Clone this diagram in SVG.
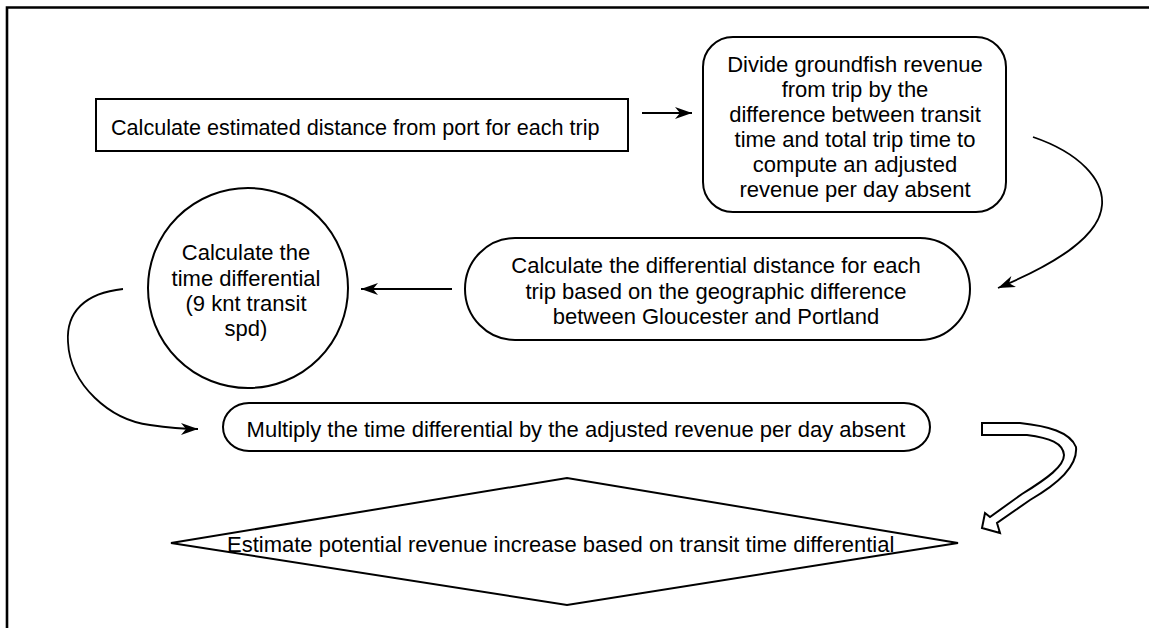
<svg xmlns="http://www.w3.org/2000/svg" width="1149" height="628" viewBox="0 0 1149 628">
  <style>
    .shape { fill: #ffffff; stroke: #000000; stroke-width: 2; }
    .label { font-family: "Liberation Sans", Arial, sans-serif; font-size: 22px; fill: #000000; }
    .mid { text-anchor: middle; }
    .conn { fill: none; stroke: #000000; stroke-width: 1.8; }
  </style>
  <defs>
    <marker id="head" markerUnits="userSpaceOnUse" markerWidth="20" markerHeight="14" refX="17" refY="6" orient="auto">
      <path d="M17,6 L0,0 L5,6 L0,12 Z" fill="#000000"/>
    </marker>
  </defs>

  <rect width="1149" height="628" fill="#ffffff"/>

  <!-- page frame -->
  <path d="M7,628 L7,7.5 L1149,7.5" fill="none" stroke="#000000" stroke-width="2.6"/>

  <g id="node-distance">
    <rect class="shape" x="96" y="99" width="532" height="52"/>
    <text class="label" x="111" y="135" style="font-size:21.6px">Calculate estimated distance from port for each trip</text>
  </g>

  <g id="node-divide">
    <rect class="shape" x="703" y="37" width="303" height="175" rx="30" ry="30"/>
    <text class="label mid" x="855" y="72">Divide groundfish revenue</text>
    <text class="label mid" x="855" y="97">from trip by the</text>
    <text class="label mid" x="855" y="122">difference between transit</text>
    <text class="label mid" x="855" y="147">time and total trip time to</text>
    <text class="label mid" x="855" y="172">compute an adjusted</text>
    <text class="label mid" x="855" y="197">revenue per day absent</text>
  </g>

  <g id="node-differential-distance">
    <rect class="shape" x="465" y="238" width="505" height="102" rx="50" ry="51"/>
    <text class="label mid" x="716" y="273">Calculate the differential distance for each</text>
    <text class="label mid" x="716" y="299">trip based on the geographic difference</text>
    <text class="label mid" x="716" y="324">between Gloucester and Portland</text>
  </g>

  <g id="node-time-differential">
    <circle class="shape" cx="248" cy="288" r="100"/>
    <text class="label mid" x="246" y="260">Calculate the</text>
    <text class="label mid" x="246" y="286">time differential</text>
    <text class="label mid" x="246" y="311">(9 knt transit</text>
    <text class="label mid" x="246" y="336">spd)</text>
  </g>

  <g id="node-multiply">
    <rect class="shape" x="223" y="403" width="707" height="48" rx="26" ry="24"/>
    <text class="label mid" x="576" y="437">Multiply the time differential by the adjusted revenue per day absent</text>
  </g>

  <g id="node-estimate">
    <polygon class="shape" points="171,543 567,478 958,543 567,605"/>
    <text class="label" x="227" y="552">Estimate potential revenue increase based on transit time differential</text>
  </g>

  <g id="connectors">
    <path class="conn" d="M642,113 L692,113" marker-end="url(#head)"/>
    <path class="conn" d="M1033,137 C1080,153 1104,180 1102,205 C1100,235 1060,262 998,288" marker-end="url(#head)"/>
    <path class="conn" d="M452,289 L361,289" marker-end="url(#head)"/>
    <path class="conn" d="M123,289 C85,293 66,312 68,342 C70,385 110,420 150,425 C170,428 185,429 198,429" marker-end="url(#head)"/>
    <!-- hollow block arrow -->
    <path class="shape" d="M982,423 L1020,423 C1048,426 1070,432 1076,447 C1078,466 1058,484 1030,500 L997,523 L1000,533 L982,528 L985,513 L990,517 L1022,494 C1048,478 1064,466 1064,455 C1063,443 1050,438 1027,435 L982,435 Z"/>
  </g>
</svg>
